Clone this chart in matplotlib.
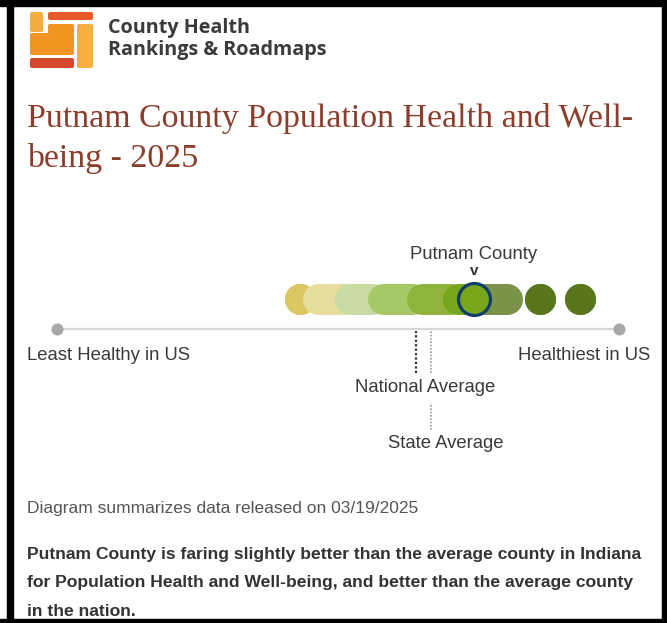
import matplotlib.pyplot as plt
from matplotlib.patches import Rectangle, FancyBboxPatch

# values (0 = least healthy in US, 100 = healthiest)
band_start = [43.2, 46.4, 52.1, 58.0, 64.9, 71.4, 75.6, 85.9, 93.1]
band_end = [43.2, 51.2, 56.0, 63.2, 69.9, 75.3, 80.1, 85.9, 93.1]
band_colors = ['#dac763', '#e7dd9f', '#c8dba2', '#a8c766', '#8fb33c',
               '#77a61c', '#7b9249', '#59761c', '#59761c']
county_name = 'Putnam County'
county_score = 74.2
national_avg = 63.9
state_avg = 66.5
scale_labels = ['Least Healthy in US', 'Healthiest in US']

W, H = 667, 623
fig = plt.figure(figsize=(W / 100, H / 100), dpi=100)

# background layer in pixel units
bg = fig.add_axes([0, 0, 1, 1])
bg.set_xlim(0, W)
bg.set_ylim(H, 0)
bg.axis('off')

# black frame
bg.add_patch(Rectangle((0, 0), W, 6, color='black'))
bg.add_patch(Rectangle((0, 619), W, 4, color='black'))
bg.add_patch(Rectangle((7, 0), 6, H, color='black'))
bg.add_patch(Rectangle((662, 0), 5, H, color='black'))

# logo
def box(x, y, w, h, c):
    bg.add_patch(FancyBboxPatch((x, y), w, h, boxstyle='round,pad=0,rounding_size=2',
                                color=c, lw=0))

box(30, 12, 13, 20, '#f5ad3d')
box(48, 12, 45, 8, '#e85b29')
box(48, 24, 26, 10, '#f39322')
box(30, 33, 44, 22, '#f39322')
box(77, 24, 16, 44, '#f6ae40')
box(30, 58, 44, 10, '#d6492a')
bg.text(108, 28, 'County Health', fontsize=14.2, family='Open Sans', weight='bold',
        color='#3a3a3a', va='center')
bg.text(108, 50, 'Rankings & Roadmaps', fontsize=14.2, family='Open Sans', weight='bold',
        color='#3a3a3a', va='center')

# title
bg.text(27, 119, 'Putnam County Population Health and Well-', fontsize=24.4,
        family='Liberation Serif', color='#8c3d2c', va='center')
bg.text(27, 159, 'being - 2025', fontsize=24.4, family='Liberation Serif',
        color='#8c3d2c', va='center')

txt = dict(family='Liberation Sans', color='#3a3a3a', fontsize=13.3, va='center')
bg.text(27, 356, scale_labels[0], ha='left', **txt)
bg.text(650, 356, scale_labels[1], ha='right', **txt)
bg.text(425, 387, 'National Average', ha='center', **txt)
bg.text(446, 443, 'State Average', ha='center', **txt)

bg.text(27, 509, 'Diagram summarizes data released on 03/19/2025', family='Liberation Sans',
        color='#555555', fontsize=12.5, va='center')
para = ['Putnam County is faring slightly better than the average county in Indiana',
        'for Population Health and Well-being, and better than the average county',
        'in the nation.']
for i, line in enumerate(para):
    bg.text(27, 555 + 28 * i, line, family='Liberation Sans', weight='bold',
            color='#333333', fontsize=12.6, va='center')

# strip chart: x 0..100 between the two grey end dots, y: line at 0, dots at 1
ax = fig.add_axes([57 / W, (H - 359) / H, 562 / W, 90 / H])
ax.set_xlim(0, 100)
ax.set_ylim(-1, 2)
ax.axis('off')

ax.plot([0, 100], [0, 0], color='#d6d6d6', lw=1.6, zorder=1)
ax.scatter([0, 100], [0, 0], s=75, color='#a8a8a8', lw=0, zorder=2, clip_on=False)

dot = 22.3
for i, (s, e, c) in enumerate(zip(band_start, band_end, band_colors)):
    ax.plot([s, e], [1, 1], color=c, lw=dot, solid_capstyle='butt', marker='o',
            markersize=dot, markeredgewidth=0, zorder=3 + i * 0.01)

ax.plot([county_score], [1], marker='o', markersize=23, markerfacecolor='#79a71b',
        markeredgecolor='#103e6c', markeredgewidth=2.3, zorder=4)
ax.annotate(county_name, (county_score, 1), xytext=(0, 32), textcoords='offset points',
            ha='center', va='center', fontsize=13.3, family='Liberation Sans', color='#3a3a3a')
ax.annotate('v', (county_score, 1), xytext=(0, 20), textcoords='offset points',
            ha='center', va='center', fontsize=11, family='Liberation Sans', color='#333333',
            weight='bold')

ax.vlines(national_avg, -1.47, -0.05, colors='#333333', lw=1.6, linestyles=(0, (1, 1)),
          clip_on=False)
ax.vlines(state_avg, -1.45, -0.05, colors='#9a9a9a', lw=1.2, linestyles=(0, (1, 1)),
          clip_on=False)
ax.vlines(state_avg, -3.37, -2.47, colors='#9a9a9a', lw=1.2, linestyles=(0, (1, 1)),
          clip_on=False)

fig.savefig('out.png', dpi=100)
